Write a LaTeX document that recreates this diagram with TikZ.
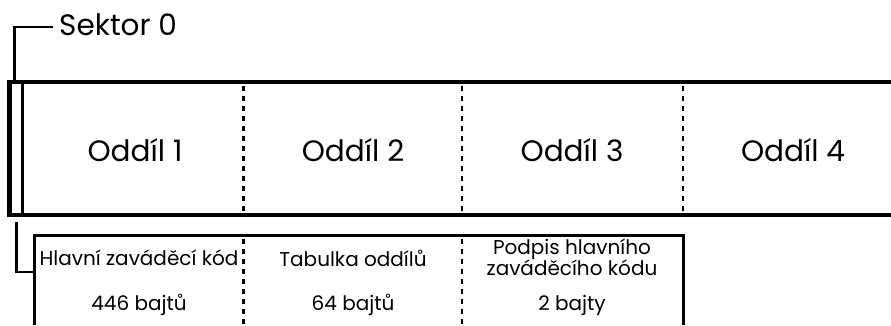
\documentclass[tikz,border=0pt]{standalone}
\usepackage{fontspec}
\setmainfont{Poppins}
\begin{document}
\begin{tikzpicture}[x=1pt,y=-1pt,
  big/.style={font=\fontsize{29.5}{32}\selectfont, inner sep=0pt},
  small/.style={font=\fontsize{20}{21}\selectfont, inner sep=0pt, align=center},
  sep/.style={line width=2.6pt, dash pattern=on 5pt off 5pt},
  frame/.style={line width=4.5pt},
  thin/.style={line width=2.8pt}]
\useasboundingbox (0,0) rectangle (891,325);
% main strip
\draw[frame] (891,82) -- (9.5,82) -- (9.5,215) -- (891,215);
\draw[thin] (22.5,82) -- (22.5,215);
\draw[sep] (243.5,86) -- (243.5,214);
\draw[sep] (462,86) -- (462,214);
\draw[sep] (683,86) -- (683,214);
\node[big] (p1) at (135,150) {Oddíl 1};
\node[big] (p2) at (353,150) {Oddíl 2};
\node[big] (p3) at (572,150) {Oddíl 3};
\node[big] (p4) at (793,150) {Oddíl 4};
% sector 0 label
\node[big, anchor=west] (s0) at (59,24.5) {Sektor 0};
\coordinate (s0top) at (14.5,80);
\draw[thin] (s0top) -- (14.5,27) -- (53,27);
% bottom box
\draw[line width=3.2pt] (34.5,325) -- (34.5,235.5) -- (683.5,235.5) -- (683.5,325);
\draw[sep] (243.5,239) -- (243.5,325);
\draw[sep] (462,239) -- (462,325);
\node[small] (m1) at (139,258) {Hlavní zaváděcí kód};
\node[small] (m1b) at (139,305) {446 bajtů};
\node[small] (m2) at (353,258) {Tabulka oddílů};
\node[small] (m2b) at (353,305) {64 bajtů};
\node[small] (m3) at (572,257) {Podpis hlavního\\zaváděcího kódu};
\node[small] (m3b) at (572,305) {2 bajty};
\coordinate (bk) at (16.5,222);
\coordinate (bkend) at (34.5,272);
\draw[thin] (bk) -- (bk |- bkend) -- (bkend);
\end{tikzpicture}
\end{document}
